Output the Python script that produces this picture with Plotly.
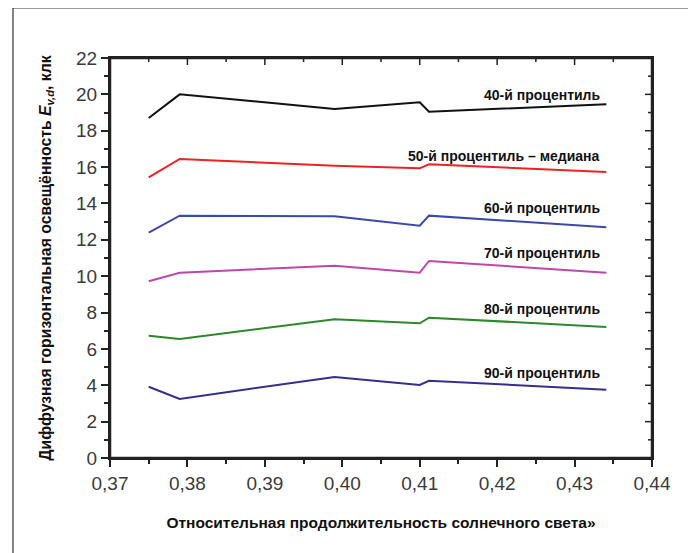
import plotly.graph_objects as go

x_vals = [0.375, 0.379, 0.399, 0.410, 0.4112, 0.4341]

p40 = [18.70, 20.00, 19.20, 19.57, 19.05, 19.45]
p50 = [15.44, 16.45, 16.08, 15.93, 16.15, 15.73]
p60 = [12.39, 13.33, 13.29, 12.78, 13.33, 12.69]
p70 = [9.72, 10.19, 10.58, 10.19, 10.84, 10.19]
p80 = [6.73, 6.55, 7.63, 7.41, 7.72, 7.21]
p90 = [3.92, 3.25, 4.46, 4.02, 4.25, 3.76]

series_names = ["40-й процентиль", "50-й процентиль – медиана", "60-й процентиль",
                "70-й процентиль", "80-й процентиль", "90-й процентиль"]
series_values = [p40, p50, p60, p70, p80, p90]
series_colors = ["#111111", "#ee2222", "#3a4aa8", "#bb48aa", "#2a8a2a", "#342e8c"]
label_y = [19.97, 16.61, 13.77, 11.26, 8.20, 4.69]
label_x = 0.4336

x_ticks = [0.37, 0.38, 0.39, 0.40, 0.41, 0.42, 0.43, 0.44]
x_minor = [0.375, 0.385, 0.395, 0.405, 0.415, 0.425, 0.435]
y_ticks = list(range(0, 23, 2))
y_minor = list(range(1, 22, 2))

fig = go.Figure()
for name, vals, col in zip(series_names, series_values, series_colors):
    fig.add_trace(go.Scatter(x=x_vals, y=vals, mode="lines", name=name,
                             line=dict(color=col, width=2), showlegend=False))

annotations = []
for name, ly in zip(series_names, label_y):
    annotations.append(dict(x=label_x, y=ly, xref="x", yref="y", text=name,
                            showarrow=False, xanchor="right", yanchor="middle",
                            font=dict(family="Liberation Sans, Arial", size=14,
                                      color="#111111", weight="bold")))

AX = "#222222"
# frame around the plot area + inward ticks on the top and right sides
shapes = [dict(type="rect", xref="paper", yref="paper", x0=0, x1=1, y0=0, y1=1,
               layer="above", line=dict(color=AX, width=2.5),
               fillcolor="rgba(0,0,0,0)")]
for vals, ln in ((x_ticks, 7), (x_minor, 4)):
    for v in vals:
        shapes.append(dict(type="line", xref="x", yref="y domain", ysizemode="pixel",
                           yanchor=1, x0=v, x1=v, y0=0, y1=-ln, layer="above",
                           line=dict(color=AX, width=1.5)))
for vals, ln in ((y_ticks, 7), (y_minor, 4)):
    for v in vals:
        shapes.append(dict(type="line", yref="y", xref="x domain", xsizemode="pixel",
                           xanchor=1, y0=v, y1=v, x0=0, x1=-ln, layer="above",
                           line=dict(color=AX, width=1.5)))
# outer border of the figure
shapes.append(dict(type="rect", xref="paper", yref="paper",
                   x0=-0.179, x1=1.070, y0=-0.27, y1=1.125,
                   line=dict(color="#333333", width=1.2), fillcolor="rgba(0,0,0,0)"))

tickfont = dict(family="Liberation Sans, Arial", size=19, color="#3a3a3a")
axis_common = dict(showline=True, linewidth=2, linecolor=AX, showgrid=False,
                   zeroline=False, ticklen=7, tickwidth=1.5, tickcolor=AX,
                   automargin=False, mirror=True)

fig.update_layout(
    width=688, height=545,
    margin=dict(l=102, r=44, t=50, b=95),
    paper_bgcolor="white", plot_bgcolor="white",
    separators=", ",
    annotations=annotations,
    shapes=shapes,
    xaxis=dict(range=[0.37, 0.44], tickvals=x_ticks, tickformat=".2f", ticks="outside",
               tickfont=tickfont,
               minor=dict(tickvals=x_minor, ticklen=4, tickcolor=AX,
                          tickwidth=1.5, ticks="outside"),
               title=dict(text="Относительная продолжительность солнечного света»",
                          font=dict(family="Liberation Sans, Arial", size=15.5,
                                    color="#111111", weight="bold"),
                          standoff=24),
               **axis_common),
    yaxis=dict(range=[0, 22], tickvals=y_ticks, ticks="outside", tickfont=tickfont,
               minor=dict(tickvals=y_minor, ticklen=4, tickcolor=AX,
                          tickwidth=1.5, ticks="outside"),
               title=dict(text="Диффузная горизонтальная освещённость <i>E</i><sub><i>v,d</i></sub>, клк",
                          font=dict(family="Liberation Sans, Arial", size=15.8,
                                    color="#111111", weight="bold"),
                          standoff=21),
               **axis_common),
)

fig.write_html("out.html")
